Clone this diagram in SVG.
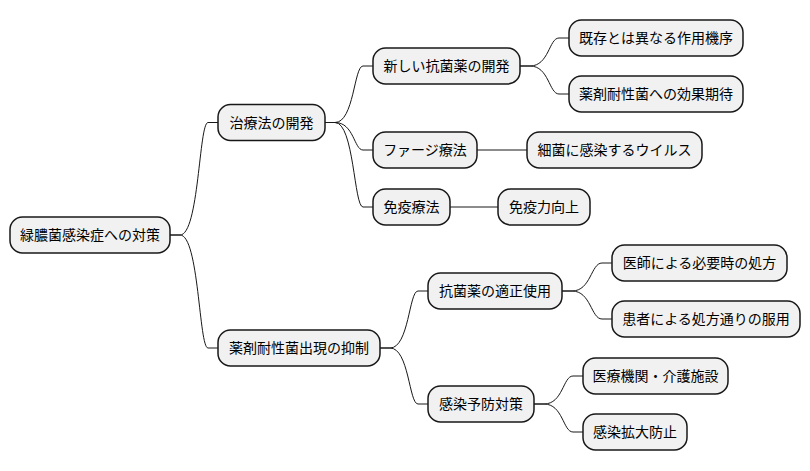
<svg xmlns="http://www.w3.org/2000/svg" width="810" height="471" viewBox="0 0 810 471">
<style>
.n rect{fill:#F1F1F1;stroke:#181818;stroke-width:1.5}
.n text{font-family:"Noto Sans CJK JP","Noto Sans",sans-serif;font-size:14px;fill:#000;text-anchor:middle}
#edges path{fill:none;stroke:#181818;stroke-width:1}
</style>
<rect width="810" height="471" fill="#FFFFFF"/>
<g id="edges">
<path d="M170,235 H180 C199,235 199,122.5 208,122.5 H218"/>
<path d="M170,235 H180 C199,235 199,348 208,348 H218"/>
<path d="M325,122.5 H335 C354,122.5 354,66 363,66 H373"/>
<path d="M325,122.5 H335 C354,122.5 354,150 363,150 H373"/>
<path d="M325,122.5 H335 C354,122.5 354,207 363,207 H373"/>
<path d="M520,66 H530 C549,66 549,38 559,38 H569"/>
<path d="M520,66 H530 C549,66 549,94 559,94 H569"/>
<path d="M477,150 H527"/>
<path d="M450,207 H498"/>
<path d="M380,348 H390 C409,348 409,291 418,291 H428"/>
<path d="M380,348 H390 C409,348 409,404 418,404 H428"/>
<path d="M562,291 H572 C591,291 591,263 602,263 H612"/>
<path d="M562,291 H572 C591,291 591,319 602,319 H612"/>
<path d="M534,404 H544 C563,404 563,376 573,376 H583"/>
<path d="M534,404 H544 C563,404 563,432 573,432 H583"/>
</g>
<g id="root" class="n"><rect x="10" y="217" width="160" height="36" rx="12.5"/><text x="90" y="240">緑膿菌感染症への対策</text></g>
<g id="chiryou" class="n"><rect x="218" y="104.5" width="107" height="36" rx="12.5"/><text x="271.5" y="127.5">治療法の開発</text></g>
<g id="shinkou" class="n"><rect x="373" y="48" width="147" height="36" rx="12.5"/><text x="446.5" y="71">新しい抗菌薬の開発</text></g>
<g id="phage" class="n"><rect x="373" y="132" width="104" height="36" rx="12.5"/><text x="425" y="155">ファージ療法</text></g>
<g id="meneki" class="n"><rect x="373" y="189" width="77" height="36" rx="12.5"/><text x="411.5" y="212">免疫療法</text></g>
<g id="kizon" class="n"><rect x="569" y="20" width="174" height="36" rx="12.5"/><text x="656" y="43">既存とは異なる作用機序</text></g>
<g id="kouka" class="n"><rect x="569" y="76" width="174" height="36" rx="12.5"/><text x="656" y="99">薬剤耐性菌への効果期待</text></g>
<g id="saikin" class="n"><rect x="527" y="132" width="175" height="36" rx="12.5"/><text x="614.5" y="155">細菌に感染するウイルス</text></g>
<g id="menekiryoku" class="n"><rect x="498" y="189" width="92" height="36" rx="12.5"/><text x="544" y="212">免疫力向上</text></g>
<g id="yokusei" class="n"><rect x="218" y="330" width="162" height="36" rx="12.5"/><text x="299" y="353">薬剤耐性菌出現の抑制</text></g>
<g id="tekisei" class="n"><rect x="428" y="273" width="134" height="36" rx="12.5"/><text x="495" y="296">抗菌薬の適正使用</text></g>
<g id="yobou" class="n"><rect x="428" y="386" width="106" height="36" rx="12.5"/><text x="481" y="409">感染予防対策</text></g>
<g id="ishi" class="n"><rect x="612" y="245" width="175" height="36" rx="12.5"/><text x="699.5" y="268">医師による必要時の処方</text></g>
<g id="kanja" class="n"><rect x="612" y="301" width="188" height="36" rx="12.5"/><text x="706" y="324">患者による処方通りの服用</text></g>
<g id="iryou" class="n"><rect x="583" y="358" width="145" height="36" rx="12.5"/><text x="655.5" y="381">医療機関・介護施設</text></g>
<g id="kakudai" class="n"><rect x="583" y="414" width="104" height="36" rx="12.5"/><text x="635" y="437">感染拡大防止</text></g>
</svg>
